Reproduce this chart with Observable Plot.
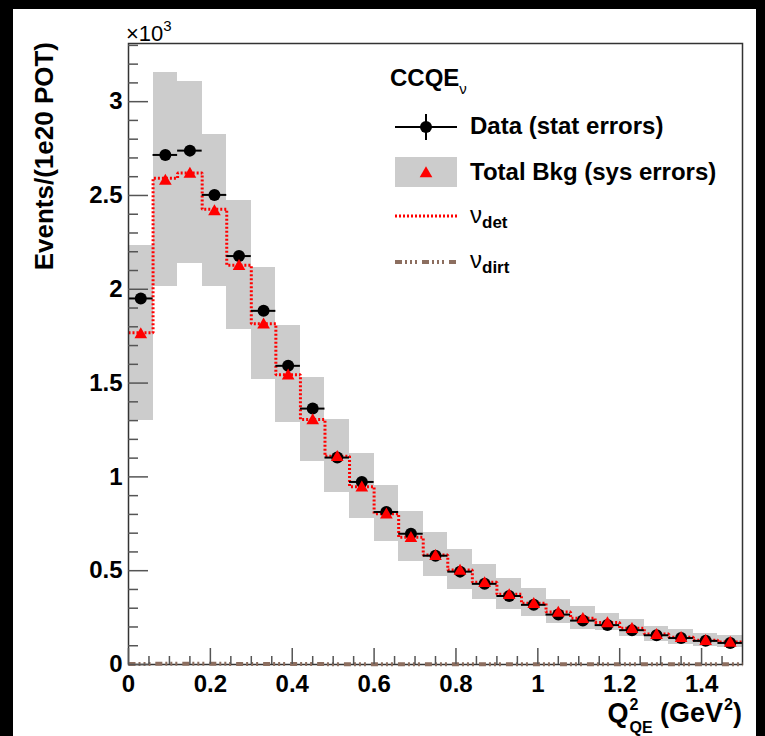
<!DOCTYPE html>
<html><head><meta charset="utf-8">
<script src="https://cdn.jsdelivr.net/npm/d3@7"></script>
<script src="https://cdn.jsdelivr.net/npm/@observablehq/plot@0.6"></script>
<style>
html,body{margin:0;padding:0;background:#000;}
#page{position:relative;width:765px;height:736px;overflow:hidden;background:#000;}
#paper{position:absolute;left:13px;top:9px;width:743px;height:727px;background:#fff;}
#chart{position:absolute;left:0;top:0;}
#overlay{position:absolute;left:0;top:0;}
</style></head><body>
<div id="page"><div id="paper"></div><div id="chart"></div><svg id="overlay" width="765" height="736"></svg></div>
<script>
// Q^2_QE bin edges (GeV^2)
const binEdges = [0,0.06,0.12,0.18,0.24,0.30,0.36,0.42,0.48,0.54,0.60,0.66,0.72,0.78,0.84,0.90,0.96,1.02,1.08,1.14,1.20,1.26,1.32,1.38,1.44,1.50];
// Events/(1e20 POT), in units of 10^3
const dataVals = [1.951,2.716,2.739,2.503,2.177,1.885,1.592,1.364,1.103,0.973,0.813,0.697,0.580,0.495,0.430,0.365,0.318,0.266,0.234,0.210,0.183,0.156,0.141,0.126,0.115];
const bkgVals  = [1.766,2.585,2.622,2.422,2.130,1.818,1.547,1.308,1.112,0.950,0.806,0.680,0.585,0.506,0.440,0.376,0.329,0.282,0.249,0.226,0.195,0.164,0.147,0.131,0.122];
const sysErr   = [0.465,0.568,0.483,0.405,0.345,0.298,0.258,0.224,0.196,0.173,0.150,0.133,0.117,0.107,0.094,0.083,0.074,0.066,0.060,0.047,0.045,0.040,0.039,0.034,0.033];
const detVals  = [1.768,2.592,2.620,2.426,2.128,1.816,1.545,1.306,1.110,0.948,0.804,0.678,0.583,0.504,0.438,0.374,0.327,0.280,0.247,0.224,0.193,0.162,0.145,0.129,0.120];
const dirtVals = [0.003,0.004,0.004,0.004,0.003,0.003,0.003,0.003,0.002,0.002,0.002,0.002,0.002,0.002,0.002,0.002,0.002,0.002,0.002,0.002,0.002,0.002,0.002,0.002,0.002];
const xTicksMajor = [0,0.2,0.4,0.6,0.8,1,1.2,1.4];
const xTicksMinor = [0.05,0.1,0.15,0.25,0.3,0.35,0.45,0.5,0.55,0.65,0.7,0.75,0.85,0.9,0.95,1.05,1.1,1.15,1.25,1.3,1.35,1.45];
const yTicksMajor = [0,0.5,1,1.5,2,2.5,3];
const yTicksMinor = [0.1,0.2,0.3,0.4,0.6,0.7,0.8,0.9,1.1,1.2,1.3,1.4,1.6,1.7,1.8,1.9,2.1,2.2,2.3,2.4,2.6,2.7,2.8,2.9,3.1,3.2,3.3];

const W = 765, H = 736, mL = 128, mR = 23, mT = 43, mB = 72;
const plotW = W - mL - mR, plotH = H - mT - mB;
const n = dataVals.length;
const bins = dataVals.map((d, i) => ({
  lo: binEdges[i], hi: binEdges[i + 1], mid: (binEdges[i] + binEdges[i + 1]) / 2,
  data: d, bkg: bkgVals[i], sys: sysErr[i]
}));
const steps = binEdges.map((e, i) => ({x: e, det: detVals[Math.min(i, n - 1)], dirt: dirtVals[Math.min(i, n - 1)]}));

const fontFam = "'Liberation Sans', Arial, Helvetica, sans-serif";
const tickCol = "#555";
const dirtCol = "#8c6e5f";
const dirtDash = "7,3,2,3,2,3,2,5";

const chart = Plot.plot({
  width: W, height: H,
  marginLeft: mL, marginRight: mR, marginTop: mT, marginBottom: mB,
  style: {background: "transparent", fontFamily: fontFam, fontSize: "24px", fontWeight: "bold", overflow: "visible"},
  x: {domain: [0, 1.5]},
  y: {domain: [0, 3.31]},
  marks: [
    Plot.rect(bins, {x1: "lo", x2: "hi", y1: d => d.bkg - d.sys, y2: d => d.bkg + d.sys, fill: "#cccccc", shapeRendering: "crispEdges"}),
    Plot.line(steps, {x: "x", y: "det", curve: "step-after", stroke: "#ff0000", strokeWidth: 3, strokeDasharray: "2,2", strokeLinecap: "butt", strokeLinejoin: "miter"}),
    Plot.ruleY(bins, {y: "data", x1: "lo", x2: "hi", stroke: "#000", strokeWidth: 2}),
    Plot.dot(bins, {x: "mid", y: "data", r: 6, fill: "#000", stroke: "none"}),
    Plot.dot(bins, {x: "mid", y: "bkg", symbol: "triangle", r: 4.7, fill: "#ff0000", stroke: "none", dy: 1.5}),
    Plot.frame({stroke: "#333", strokeWidth: 1.5}),
    Plot.line(steps, {x: "x", y: "dirt", curve: "step-after", stroke: dirtCol, strokeWidth: 4, strokeDasharray: dirtDash, strokeLinecap: "butt"}),
    Plot.ruleY(yTicksMajor, {stroke: tickCol, strokeWidth: 1.5, insetRight: plotW - 20}),
    Plot.ruleY(yTicksMinor, {stroke: tickCol, strokeWidth: 1.5, insetRight: plotW - 10}),
    Plot.ruleX(xTicksMajor, {stroke: tickCol, strokeWidth: 1.5, insetTop: plotH - 16}),
    Plot.ruleX(xTicksMinor, {stroke: tickCol, strokeWidth: 1.5, insetTop: plotH - 8}),
    Plot.axisY({ticks: yTicksMajor, tickSize: 0, tickPadding: 6, tickFormat: d => String(d), label: null, fontSize: 24, fontWeight: "bold", fill: "#000"}),
    Plot.axisX({ticks: xTicksMajor, tickSize: 0, tickPadding: 10, tickFormat: d => String(d), label: null, fontSize: 24, fontWeight: "bold", fill: "#000"})
  ]
});
document.getElementById("chart").appendChild(chart);

// Titles and legend overlay
const ov = d3.select("#overlay").style("font-family", fontFam);
// x10^3
const e3 = ov.append("text").attr("x", 126).attr("y", 41).attr("font-size", 22).attr("fill", "#000");
e3.append("tspan").text("×10");
e3.append("tspan").attr("font-size", 15).attr("dy", -10).text("3");
// y title
ov.append("text").attr("transform", "translate(53,42) rotate(-90)").attr("text-anchor", "end")
  .attr("font-size", 26).attr("font-weight", "bold").text("Events/(1e20 POT)");
// x title
const xt = ov.append("text").attr("x", 742).attr("y", 722).attr("text-anchor", "end")
  .attr("font-size", 27).attr("font-weight", "bold");
xt.append("tspan").text("Q");
xt.append("tspan").attr("font-size", 16).attr("dx", 1).attr("dy", -12).text("2");
xt.append("tspan").attr("font-size", 16).attr("dx", -9).attr("dy", 23).text("QE");
xt.append("tspan").attr("dy", -11).text(" (GeV");
xt.append("tspan").attr("font-size", 16).attr("dx", 1).attr("dy", -12).text("2");
xt.append("tspan").attr("dy", 12).text(")");

// legend
const lg = ov.append("g");
const t0 = lg.append("text").attr("x", 390).attr("y", 86).attr("font-size", 24).attr("font-weight", "bold");
t0.append("tspan").text("CCQE");
t0.append("tspan").attr("font-size", 15).attr("font-weight", "normal").attr("dy", 8).text("ν");
// Data
lg.append("line").attr("x1", 395).attr("x2", 457).attr("y1", 127).attr("y2", 127).attr("stroke", "#000").attr("stroke-width", 2);
lg.append("line").attr("x1", 426).attr("x2", 426).attr("y1", 114).attr("y2", 140).attr("stroke", "#000").attr("stroke-width", 2);
lg.append("circle").attr("cx", 426).attr("cy", 127).attr("r", 6).attr("fill", "#000");
lg.append("text").attr("x", 470).attr("y", 134).attr("font-size", 24).attr("font-weight", "bold").text("Data (stat errors)");
// Total Bkg
lg.append("rect").attr("x", 395).attr("y", 157).attr("width", 62).attr("height", 30).attr("fill", "#cccccc");
lg.append("path").attr("d", d3.symbol(d3.symbolTriangle, Math.PI * 4.7 * 4.7)()).attr("transform", "translate(426,173.5)").attr("fill", "#ff0000");
lg.append("text").attr("x", 470).attr("y", 180).attr("font-size", 24).attr("font-weight", "bold").text("Total Bkg (sys errors)");
// nu_det
lg.append("line").attr("x1", 395).attr("x2", 457).attr("y1", 216).attr("y2", 216).attr("stroke", "#ff0000").attr("stroke-width", 3).attr("stroke-dasharray", "2,2");
const t3 = lg.append("text").attr("x", 470).attr("y", 223).attr("font-size", 24);
t3.append("tspan").text("ν");
t3.append("tspan").attr("font-size", 17).attr("font-weight", "bold").attr("dy", 5).text("det");
// nu_dirt
lg.append("line").attr("x1", 395).attr("x2", 457).attr("y1", 262).attr("y2", 262).attr("stroke", dirtCol).attr("stroke-width", 4).attr("stroke-dasharray", dirtDash);
const t4 = lg.append("text").attr("x", 470).attr("y", 268).attr("font-size", 24);
t4.append("tspan").text("ν");
t4.append("tspan").attr("font-size", 17).attr("font-weight", "bold").attr("dy", 5).text("dirt");
</script>
</body></html>
